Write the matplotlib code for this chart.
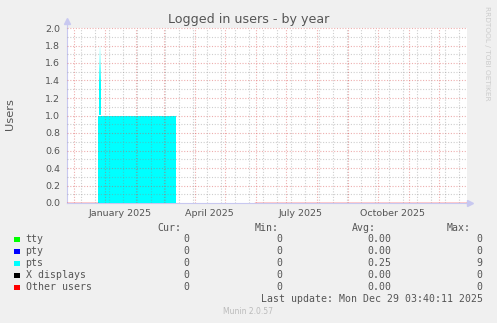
import numpy as np
import matplotlib
matplotlib.use("Agg")
import matplotlib.pyplot as plt
import matplotlib.dates as mdates
from matplotlib.patches import Rectangle
from matplotlib.colors import LinearSegmentedColormap

# ---------------- data ----------------
period_start = np.array(["2024-11-24T03:40", "2024-12-25T00:00", "2024-12-26T00:00",
                         "2024-12-28T00:00", "2025-03-13T00:00", "2025-05-31T00:00"],
                        dtype="datetime64[m]")
range_end = np.datetime64("2025-12-29T03:40")
tty = [0, 0, 0, 0, np.nan, 0]
pty = [0, 0, 0, 0, np.nan, 0]
pts = [0, 1.0, 1.78, 1.0, np.nan, 0]
xdisp = [0, 0, 0, 0, np.nan, 0]
other = [0, 0, 0, 0, np.nan, 0]

series_names = ["tty", "pty", "pts", "X displays", "Other users"]
series_colors = ["#00FF00", "#0000FF", "#00FFFF", "#000000", "#FF0000"]
cur_vals = ["0", "0", "0", "0", "0"]
min_vals = ["0", "0", "0", "0", "0"]
avg_vals = ["0.00", "0.00", "0.25", "0.00", "0.00"]
max_vals = ["0", "0", "9", "0", "0"]

label_months = ["2025-01-16", "2025-04-16", "2025-07-16", "2025-10-16"]
label_texts = ["January 2025", "April 2025", "July 2025", "October 2025"]
month_lines = ["2024-12-01", "2025-01-01", "2025-02-01", "2025-03-01", "2025-04-01",
               "2025-05-01", "2025-06-01", "2025-07-01", "2025-08-01", "2025-09-01",
               "2025-10-01", "2025-11-01", "2025-12-01"]
minor_start = "2024-12-08"
minor_step_days = 14

title = "Logged in users - by year"
ylabel = "Users"
last_update = "Last update: Mon Dec 29 03:40:11 2025"
version = "Munin 2.0.57"
side_text = "RRDTOOL / TOBI OETIKER"


def dnum(d):
    return mdates.date2num(np.datetime64(d).astype("datetime64[s]").astype(object))


# ---------------- figure ----------------
W, H = 497, 323
fig = plt.figure(figsize=(W / 100, H / 100), dpi=100, facecolor="#F0F0F0")
def fx(px): return px / W
def fy(py): return 1 - py / H

ax = fig.add_axes([fx(67), fy(203), fx(467) - fx(67), fy(28) - fy(203)])
ax.set_facecolor("white")

edges = [dnum(d) for d in period_start] + [dnum(range_end)]

def step_xy(vals):
    xs, ys = [], []
    for i, v in enumerate(vals):
        xs += [edges[i], edges[i + 1]]
        ys += [v, v]
    return np.array(xs), np.array(ys, dtype=float)

stack = np.zeros(len(pts))
for vals, col, name in zip([tty, pty, pts, xdisp, other], series_colors, series_names):
    top = stack + np.array(vals, dtype=float)
    xs, yb = step_xy(stack)
    _, yt = step_xy(top)
    ax.fill_between(xs, yb, yt, color=col, lw=0, zorder=2)
    stack = top

# spike column shading (pale towards its peak)
i_sp = 2
x0, x1 = edges[i_sp], edges[i_sp + 1]
ax.fill_between([x0, x1], 1.0, [pts[i_sp], pts[i_sp]], color="white", lw=0, zorder=2.5)
cmap = LinearSegmentedColormap.from_list(
    "sp", [(0.0, "#00FFFF"), (0.45, "#00FFFF"), (0.8, "#B0FFFF"), (1.0, "#F4FFFF")])
grad = np.linspace(0, 1, 64).reshape(-1, 1)
ax.imshow(grad, extent=[x0, x1, 1.0, pts[i_sp]], origin="lower", aspect="auto",
          cmap=cmap, zorder=2.6, interpolation="bilinear")
ax.set_xlim(edges[0], edges[-1])
ax.set_ylim(0, 2.0)

# red zero line where everything is zero
tot = stack
zl = np.where(tot == 0, 0.0, np.nan)
xs, ys = step_xy(zl)
ax.plot(xs, ys, color="#FF0000", lw=1.0, zorder=3)

# grid
minor_col = (0.55, 0.55, 0.55, 0.42)
major_col = (0.85, 0.3, 0.3, 0.45)
for yv in np.arange(0.1, 2.0, 0.2):
    ax.axhline(yv, color=minor_col, lw=0.8, ls=(0, (1, 1.5)), zorder=4)
for yv in np.arange(0.2, 2.01, 0.2):
    ax.axhline(yv, color=major_col, lw=0.8, ls=(0, (1, 1.5)), zorder=4, clip_on=False)
md = np.arange(np.datetime64(minor_start), range_end.astype("datetime64[D]"),
               np.timedelta64(minor_step_days, "D"))
for d in md:
    ax.axvline(dnum(d), color=minor_col, lw=0.8, ls=(0, (1, 1.5)), zorder=4)
for d in month_lines:
    ax.axvline(dnum(d), color=major_col, lw=0.8, ls=(0, (1, 1.5)), zorder=4)

# ticks and labels
yt_vals = np.arange(0, 2.01, 0.2)
ax.set_yticks(yt_vals)
ax.set_yticklabels([f"{v:.1f}" for v in yt_vals])
ax.set_xticks([dnum(d) for d in label_months])
ax.set_xticklabels(label_texts)
ax.tick_params(axis="both", length=0, labelsize=6.8, labelcolor="#555555")
ax.tick_params(axis="y", pad=5)
ax.tick_params(axis="x", pad=4)

for s in ["top", "right"]:
    ax.spines[s].set_visible(False)
axc = "#C8C8F0"
for s in ["left", "bottom"]:
    ax.spines[s].set_color(axc)
    ax.spines[s].set_linewidth(0.8)
    ax.spines[s].set_zorder(1)
ax.plot([0, 0], [1.0, 1.03], transform=ax.transAxes, color=axc, lw=0.8, clip_on=False)
ax.plot([0], [1.04], transform=ax.transAxes, marker="^", ms=5, color=axc, mec=axc, clip_on=False)
ax.plot([1.0, 1.005], [0, 0], transform=ax.transAxes, color=axc, lw=0.8, clip_on=False)
ax.plot([1.008], [0], transform=ax.transAxes, marker=">", ms=5, color=axc, mec=axc, clip_on=False)

fig.text(fx(248.5), fy(19.5), title, ha="center", va="center", fontsize=9.1, color="#555555")
fig.text(fx(10), fy(114), ylabel, rotation=90, ha="center", va="center", fontsize=8.2,
         color="#555555")
fig.text(fx(487.5), fy(53), side_text, rotation=-90, ha="center", va="center", fontsize=5.3,
         color="#CCCCCC")

mono = dict(family="DejaVu Sans Mono", fontsize=7.15, color="#555555", va="center")
fig.text(fx(157.5), fy(228), "Cur:", ha="left", **mono)
fig.text(fx(254.5), fy(228), "Min:", ha="left", **mono)
fig.text(fx(351.5), fy(228), "Avg:", ha="left", **mono)
fig.text(fx(446.5), fy(228), "Max:", ha="left", **mono)
row_y = [239.5, 251.5, 263.5, 275.5, 287.5]
for i, name in enumerate(series_names):
    yy = row_y[i]
    fig.patches.append(Rectangle((fx(14), fy(yy + 2.5)), fx(5.5), 5.5 / H,
                                 transform=fig.transFigure, color=series_colors[i], lw=0))
    fig.text(fx(25.5), fy(yy), name, ha="left", **mono)
    fig.text(fx(189.8), fy(yy), cur_vals[i], ha="right", **mono)
    fig.text(fx(282.8), fy(yy), min_vals[i], ha="right", **mono)
    fig.text(fx(391.2), fy(yy), avg_vals[i], ha="right", **mono)
    fig.text(fx(482.8), fy(yy), max_vals[i], ha="right", **mono)
fig.text(fx(482.8), fy(298.5), last_update, ha="right", **mono)
fig.text(fx(248), fy(312), version, ha="center", va="center", fontsize=5.5, color="#BBBBBB")

fig.savefig("out.png", dpi=100, facecolor=fig.get_facecolor())
